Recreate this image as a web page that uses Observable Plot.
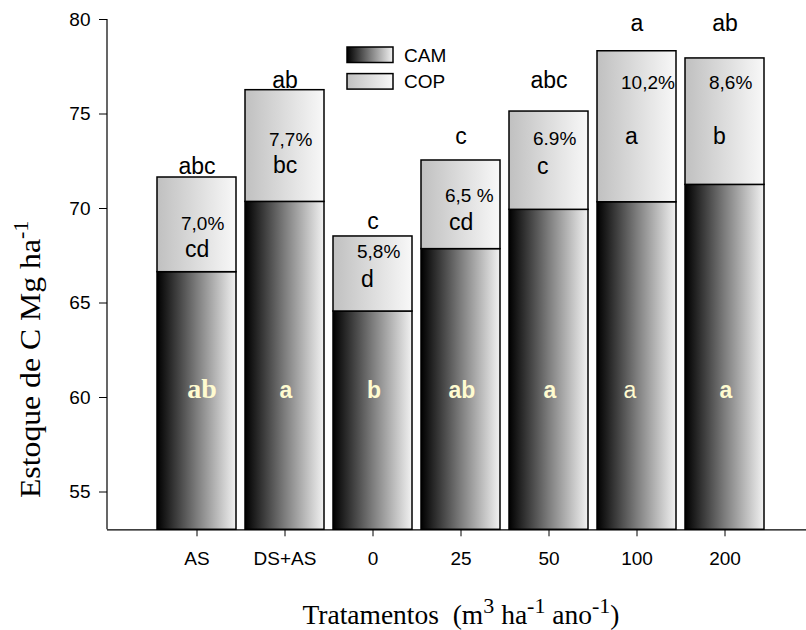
<!DOCTYPE html>
<html><head><meta charset="utf-8">
<script src="https://cdn.jsdelivr.net/npm/d3@7"></script>
<script src="https://cdn.jsdelivr.net/npm/@observablehq/plot@0.6"></script>
<style>
html,body{margin:0;padding:0;background:#fff;}
#chart{width:806px;height:630px;}
</style></head><body><div id="chart"></div>
<script>
// ---- data ----
const tratamentos = ["AS", "DS+AS", "0", "25", "50", "100", "200"];
const cam   = [66.63, 70.35, 64.55, 67.85, 69.93, 70.33, 71.25];   // CAM top (Mg/ha)
const total = [71.64, 76.26, 68.52, 72.54, 75.13, 78.32, 77.94];   // CAM + COP top
const pctLabels  = ["7,0%", "7,7%", "5,8%", "6,5 %", "6.9%", "10,2%", "8,6%"];
const topLetters = ["abc", "ab", "c", "c", "abc", "a", "ab"];
const copLetters = ["cd", "bc", "d", "cd", "c", "a", "b"];
const camLetters = ["ab", "a", "b", "ab", "a", "a", "a"];
// label heights in data units (Mg/ha)
const topLabelY  = [71.82, 76.39, 68.93, 73.39, 76.37, 79.38, 79.38];
const pctLabelY  = [68.87, 73.33, 67.37, 70.32, 73.37, 76.31, 76.33];
const copLetterY = [67.42, 71.87, 65.87, 68.87, 71.84, 73.39, 73.39];
const camLetterY = 60;
const yTicks  = [55, 60, 65, 70, 75, 80];
const yDomain = [53, 80];
const seriesNames = ["CAM", "COP"];

const data = tratamentos.map((t, i) => ({
  t, cam: cam[i], total: total[i], base: yDomain[0],
  pct: pctLabels[i], top: topLetters[i], copL: copLetters[i], camL: camLetters[i],
  topY: topLabelY[i], pctY: pctLabelY[i], copY: copLetterY[i], camY: camLetterY
}));

const sans = "'Liberation Sans', Arial, Helvetica, sans-serif";
const serif = "'Liberation Serif', 'Times New Roman', serif";
const cream = "#fffbd0";

const chart = Plot.plot({
  width: 806, height: 630,
  marginTop: 19, marginBottom: 100.7, marginLeft: 107, marginRight: 0,
  style: {fontFamily: sans, fontSize: "19px", color: "black", background: "white"},
  x: {type: "band", domain: tratamentos, range: [150.6, 771.5], paddingInner: 0.1, paddingOuter: 0.05,
      tickSize: 7, tickPadding: 15, label: null},
  y: {domain: yDomain, ticks: yTicks, tickSize: 8, tickPadding: 9, label: null},
  marks: [
    Plot.barY(data, {x: "t", y1: "base", y2: "cam", fill: "url(#gCAM)", stroke: "black", strokeWidth: 1.5}),
    Plot.barY(data, {x: "t", y1: "cam", y2: "total", fill: "url(#gCOP)", stroke: "black", strokeWidth: 1.5}),
    Plot.ruleY([yDomain[0]], {stroke: "black", strokeWidth: 1.2}),
    Plot.text(data, {x: "t", y: "topY", text: "top", lineAnchor: "bottom", fontFamily: sans, fontSize: 23, dx: 0, fill: "black"}),
    Plot.text(data, {x: "t", y: "pctY", text: "pct", textAnchor: "start", lineAnchor: "bottom", fontFamily: sans, fontSize: 19, dx: -16, fill: "black"}),
    Plot.text(data, {x: "t", y: "copY", text: "copL", textAnchor: "start", lineAnchor: "bottom", fontFamily: sans, fontSize: 23, dx: -12, fill: "black"}),
    Plot.text(data, {filter: (d, i) => i === 0, x: "t", y: "camY", text: "camL", lineAnchor: "bottom",
      fontFamily: serif, fontWeight: "bold", fontSize: 28, dx: 5, fill: cream}),
    Plot.text(data, {filter: (d, i) => i !== 0 && i !== 5, x: "t", y: "camY", text: "camL", lineAnchor: "bottom",
      fontFamily: sans, fontWeight: "bold", fontSize: 23, dx: 1, fill: cream}),
    Plot.text(data, {filter: (d, i) => i === 5, x: "t", y: "camY", text: "camL", lineAnchor: "bottom",
      fontFamily: sans, fontSize: 23, dx: -7, fill: cream})
  ]
});
document.getElementById("chart").appendChild(chart);

// ---- gradients, axis line, legend, titles ----
const svg = d3.select(chart);
const defs = svg.insert("defs", ":first-child");
function grad(id, stops) {
  const g = defs.append("linearGradient").attr("id", id).attr("x1", "0").attr("x2", "1").attr("y1", "0").attr("y2", "0");
  stops.forEach(([o, c]) => g.append("stop").attr("offset", o).attr("stop-color", c));
}
grad("gCAM", [["0", "#000000"], ["0.5", "#7c7c7c"], ["1", "#f2f2f2"]]);
grad("gCOP", [["0", "#c0c0c0"], ["1", "#f8f8f8"]]);

const ys = chart.scale("y");
const yTop = Math.min(...ys.range), yBot = Math.max(...ys.range);
svg.append("line").attr("x1", 107).attr("x2", 107).attr("y1", yTop).attr("y2", yBot)
  .attr("stroke", "black").attr("stroke-width", 1.2);

// legend
const leg = svg.append("g").attr("font-family", sans).attr("font-size", 19).attr("text-anchor", "start");
seriesNames.forEach((name, i) => {
  leg.append("rect").attr("x", 347).attr("y", 47 + i * 26.6).attr("width", 46).attr("height", 15.5)
    .attr("fill", i === 0 ? "url(#gCAM)" : "url(#gCOP)").attr("stroke", "black").attr("stroke-width", 1.5);
  leg.append("text").attr("x", 404).attr("y", 61.7 + i * 26.6).attr("text-anchor", "start").text(name);
});

// y title
const yt = svg.append("text").attr("transform", "translate(40,498) rotate(-90)").attr("text-anchor", "start")
  .attr("font-family", serif).attr("font-size", 29).attr("fill", "black");
yt.append("tspan").attr("textLength", 259).attr("lengthAdjust", "spacingAndGlyphs").text("Estoque de C Mg ha");
yt.append("tspan").attr("font-size", 22).attr("dy", -12).text("-1");

// x title
const xt = svg.append("text").attr("x", 461).attr("y", 624).attr("text-anchor", "middle")
  .attr("font-family", serif).attr("font-size", 27.5).attr("fill", "black");
xt.append("tspan").text("Tratamentos\u00A0\u00A0(m");
xt.append("tspan").attr("font-size", 22).attr("dy", -11).text("3");
xt.append("tspan").attr("dy", 11).text(" ha");
xt.append("tspan").attr("font-size", 22).attr("dy", -11).text("-1");
xt.append("tspan").attr("dy", 11).text(" ano");
xt.append("tspan").attr("font-size", 22).attr("dy", -11).text("-1");
xt.append("tspan").attr("dy", 11).text(")");
</script></body></html>
